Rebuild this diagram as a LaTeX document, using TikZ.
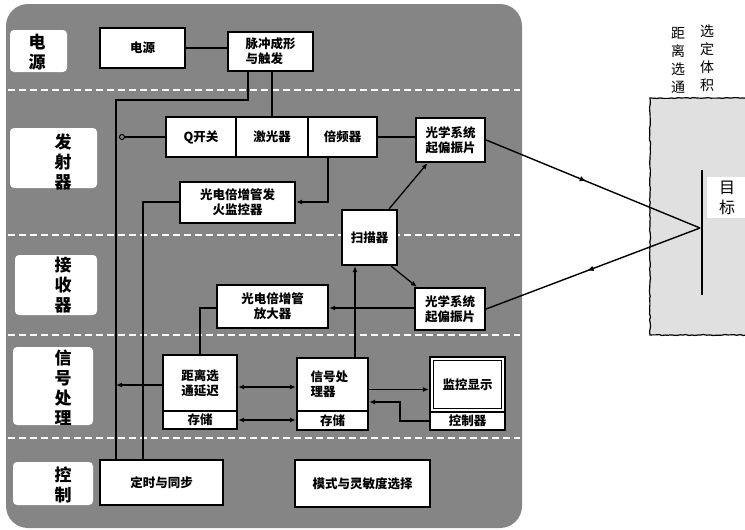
\documentclass[tikz,border=0pt]{standalone}
\usepackage{fontspec}
\setmainfont{Noto Sans CJK SC}
\usetikzlibrary{arrows.meta,decorations.markings,decorations.pathmorphing}
\begin{document}
\begin{tikzpicture}[x=1pt,y=-1pt,
  box/.style={draw=black,line width=2.3pt,fill=white,inner sep=0pt,
    font=\fontsize{12.5}{15}\selectfont\bfseries,align=center},
  labtext/.style={inner sep=0pt,font=\fontsize{17}{20}\selectfont\bfseries,align=center},
  labbg/.style={fill=white,rounded corners=4pt},
  wire/.style={line width=1.3pt},
  arr/.style={wire,-{Latex[length=6pt,width=5pt]}},
  sep/.style={white,line width=1.1pt,dash pattern=on 7pt off 4pt},
  beam/.style={line width=1.4pt,postaction={decorate}},
  smalltext/.style={inner sep=0pt,font=\fontsize{14}{18}\selectfont,align=center}
]
\useasboundingbox (0,0) rectangle (745,530);
% grey panel
\fill[black!48,rounded corners=22pt] (6,4) rectangle (522,528);
% separators
\foreach \yy in {90,235,335,438} \draw[sep] (8,\yy) -- (520,\yy);
% left labels
\fill[labbg] (10,30) rectangle (67,72);
\node[labtext] (lpwr) at (37,52) {电\\源};
\fill[labbg] (10,128) rectangle (97,188);
\node[labtext] (ltx) at (63,162) {发\\射\\器};
\fill[labbg] (15,255) rectangle (97,315);
\node[labtext] (lrx) at (63,285) {接\\收\\器};
\fill[labbg] (13,347) rectangle (93,425);
\node[labtext] (lsig) at (63,388) {信\\号\\处\\理};
\fill[labbg] (13,462) rectangle (93,505);
\node[labtext] (lctl) at (63,485) {控\\制};

% right target volume
\fill[black!12] (650,98) rectangle (750,335);
\draw[line width=1.2pt,decorate,decoration={random steps,segment length=3pt,amplitude=0.5pt}]
  (750,98) -- (650,98) -- (650,335) -- (750,335);
\fill[white] (707,177) rectangle (748,218);
\node[smalltext,font=\fontsize{16}{20}\selectfont] (tlab) at (727,198) {目\\标};
\node[smalltext] (rlab1) at (678,60) {距\\离\\选\\通};
\node[smalltext] (rlab2) at (707,58) {选\\定\\体\\积};
\coordinate (ttop) at (702,170);
\coordinate (tbot) at (702,295);
\coordinate (tgt) at (700,228);
\draw[line width=2.6pt] (ttop) -- (tbot);

% boxes
\node[box,minimum width=85pt,minimum height=40pt] (pwr) at (142.5,48) {电源};
\node[box,minimum width=85pt,minimum height=39pt,align=left] (pulse) at (270.5,51.5) {脉冲成形\\与触发};
\node[box,minimum width=70pt,minimum height=40pt] (q) at (201,137) {Q开关};
\node[box,minimum width=72pt,minimum height=40pt] (laser) at (272,137) {激光器};
\node[box,minimum width=69pt,minimum height=40pt] (dbl) at (342.5,137) {倍频器};
\node[box,minimum width=69pt,minimum height=44pt] (optU) at (450.5,140) {光学系统\\起偏振片};
\node[box,minimum width=115pt,minimum height=41pt] (mon) at (237.5,202.5) {光电倍增管发\\火监控器};
\node[box,minimum width=55pt,minimum height=55pt] (scan) at (369.5,237.5) {扫描器};
\node[box,minimum width=111pt,minimum height=43pt] (amp) at (272.5,306.5) {光电倍增管\\放大器};
\node[box,minimum width=70pt,minimum height=42pt] (optL) at (450,309) {光学系统\\起偏振片};
\node[box,minimum width=74pt,minimum height=56pt] (delayU) at (200,383) {距离选\\通延迟};
\node[box,minimum width=74pt,minimum height=18pt] (delayL) at (200,420) {存储};
\node[box,minimum width=71pt,minimum height=53pt,align=left] (sigpU) at (332.5,384.5) {信号处\\理器\hspace*{1.5em}};
\node[box,minimum width=71pt,minimum height=19pt] (sigpL) at (332.5,420.5) {存储};
\node[box,minimum width=75pt,minimum height=55pt] (dispU) at (467.5,384.5) {监控显示};
\node[box,minimum width=75pt,minimum height=18pt] (dispL) at (467.5,421) {控制器};
\draw[line width=1.1pt] ([shift={(5,5)}]dispU.north west) rectangle ([shift={(-5,-5)}]dispU.south east);
\node[box,minimum width=123pt,minimum height=45pt] (timing) at (161.5,482.5) {定时与同步};
\node[box,minimum width=135pt,minimum height=47pt] (mode) at (362.5,483.5) {模式与灵敏度选择};

% connectors
\coordinate (j1) at (248,100);
\coordinate (v1) at (116,100);
\coordinate (v2) at (143,202);
\coordinate (j2) at (328,202);
\coordinate (j3) at (200,308);
\coordinate (sc) at (355,300);
\coordinate (r1) at (400,402);
\coordinate (qh) at (122,137);

\draw[wire] (pwr.east) -- (pwr.east -| pulse.west);
\draw[wire] (pulse.south -| j1) -- (j1) -- (v1) -- (v1 |- timing.north);
\draw[wire] (pulse.south -| laser.north) -- (laser.north);
\draw[wire] ([xshift=2.5pt]qh) -- (q.west);
\draw[line width=1pt] (qh) circle[radius=2.5pt];
\draw[wire] (dbl.east) -- (dbl.east -| optU.west);
\draw[arr] (dbl.south -| j2) -- (j2) -- (mon.east |- j2);
\draw[wire] (mon.west |- v2) -- (v2) -- (v2 |- timing.north);
\draw[arr] ([xshift=-9pt]scan.north east) -- ([xshift=-23pt]optU.south);
\draw[arr] ([xshift=-7pt]scan.south east) -- ([xshift=3pt]optL.north west);
\draw[arr] (optL.west |- j3) -- (amp.east |- j3);
\draw[wire] (amp.west |- j3) -- (j3) -- (delayU.north);
\draw[arr] (sigpU.north -| sc) -- (scan.south -| sc);
\draw[wire,{Latex[length=6pt,width=5pt]}-{Latex[length=6pt,width=5pt]}] ([yshift=-4pt]delayU.east) -- ([yshift=-4pt]delayU.east -| sigpU.west);
\draw[wire,{Latex[length=6pt,width=5pt]}-{Latex[length=6pt,width=5pt]}] (delayL.east) -- (delayL.east -| sigpL.west);
\draw[arr] ([yshift=-2pt]delayU.west) -- ([yshift=-2pt]delayU.west -| v1);
\draw[arr] ([yshift=-5pt]sigpU.east) -- ([yshift=-5pt]sigpU.east -| dispU.west);
\draw[arr] (dispL.west) -| (r1) -- (r1 -| sigpU.east);

% beams
\draw[beam,decoration={markings,mark=at position 0.47 with {\arrow{Latex[length=7pt,width=5.5pt]}}}]
  (optU.east) -- (tgt);
\draw[beam,decoration={markings,mark=at position 0.53 with {\arrow{Latex[length=7pt,width=5.5pt]}}}]
  (tgt) -- (optL.east);
\end{tikzpicture}
\end{document}
